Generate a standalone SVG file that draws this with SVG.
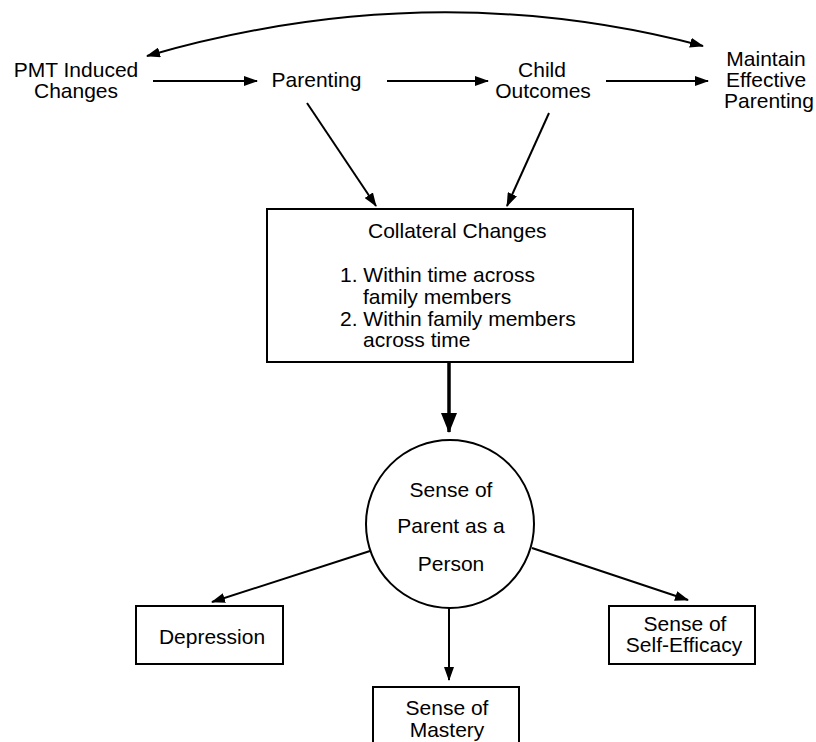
<svg xmlns="http://www.w3.org/2000/svg" width="816" height="742" viewBox="0 0 816 742">
<style>
text{font-family:"Liberation Sans",Arial,sans-serif;font-size:21px;fill:#000}
.m{text-anchor:middle}
.box{fill:#fff;stroke:#000;stroke-width:2}
.ln{fill:none;stroke:#000;stroke-width:2}
.thick{fill:none;stroke:#000;stroke-width:3.5}
</style>
<defs>
<marker id="ah" markerUnits="userSpaceOnUse" markerWidth="14" markerHeight="10" refX="13" refY="5" orient="auto-start-reverse">
<path d="M0,0 L14,5 L0,10 z" fill="#000"/>
</marker>
<marker id="ahb" markerUnits="userSpaceOnUse" markerWidth="20" markerHeight="16" refX="19" refY="8" orient="auto">
<path d="M0,0 L20,8 L0,16 z" fill="#000"/>
</marker>
</defs>
<rect width="816" height="742" fill="#fff"/>
<g id="connectors">
<path class="ln" d="M147,56 Q430,-26 703,46" marker-start="url(#ah)" marker-end="url(#ah)"/>
<line class="ln" x1="153" y1="81" x2="257" y2="81" marker-end="url(#ah)"/>
<line class="ln" x1="387" y1="81" x2="488" y2="81" marker-end="url(#ah)"/>
<line class="ln" x1="606" y1="81" x2="708" y2="81" marker-end="url(#ah)"/>
<line class="ln" x1="307" y1="103" x2="376" y2="206" marker-end="url(#ah)"/>
<line class="ln" x1="549" y1="113" x2="507" y2="206" marker-end="url(#ah)"/>
<line class="thick" x1="449" y1="362" x2="449" y2="432" marker-end="url(#ahb)"/>
<line class="ln" x1="370" y1="551" x2="212" y2="602" marker-end="url(#ah)"/>
<line class="ln" x1="449" y1="608" x2="449" y2="680" marker-end="url(#ah)"/>
<line class="ln" x1="532" y1="548" x2="688" y2="600" marker-end="url(#ah)"/>
</g>
<g id="pmt">
<text class="m" x="76" y="77">PMT Induced</text>
<text class="m" x="76" y="98">Changes</text>
</g>
<g id="parenting">
<text class="m" x="316.5" y="87">Parenting</text>
</g>
<g id="child">
<text class="m" x="542" y="77">Child</text>
<text class="m" x="543" y="98">Outcomes</text>
</g>
<g id="maintain">
<text class="m" x="766" y="66">Maintain</text>
<text class="m" x="766" y="87">Effective</text>
<text class="m" x="769" y="108">Parenting</text>
</g>
<g id="collateral">
<rect class="box" x="267" y="209" width="366" height="153"/>
<text x="368" y="238">Collateral Changes</text>
<text x="340" y="282">1. Within time across</text>
<text x="363" y="304">family members</text>
<text x="340" y="325.5">2. Within family members</text>
<text x="363" y="347">across time</text>
</g>
<g id="parent-person">
<circle cx="450" cy="524" r="84" fill="#fff" stroke="#000" stroke-width="2"/>
<text class="m" x="451" y="497">Sense of</text>
<text class="m" x="451" y="533">Parent as a</text>
<text class="m" x="451" y="571">Person</text>
</g>
<g id="depression">
<rect class="box" x="136" y="606" width="147" height="58"/>
<text class="m" x="212" y="644">Depression</text>
</g>
<g id="mastery">
<rect class="box" x="373" y="687" width="146" height="62"/>
<text class="m" x="447" y="715">Sense of</text>
<text class="m" x="447" y="737">Mastery</text>
</g>
<g id="self-efficacy">
<rect class="box" x="609" y="606" width="146" height="58"/>
<text class="m" x="685" y="631">Sense of</text>
<text class="m" x="684" y="652">Self-Efficacy</text>
</g>
</svg>
